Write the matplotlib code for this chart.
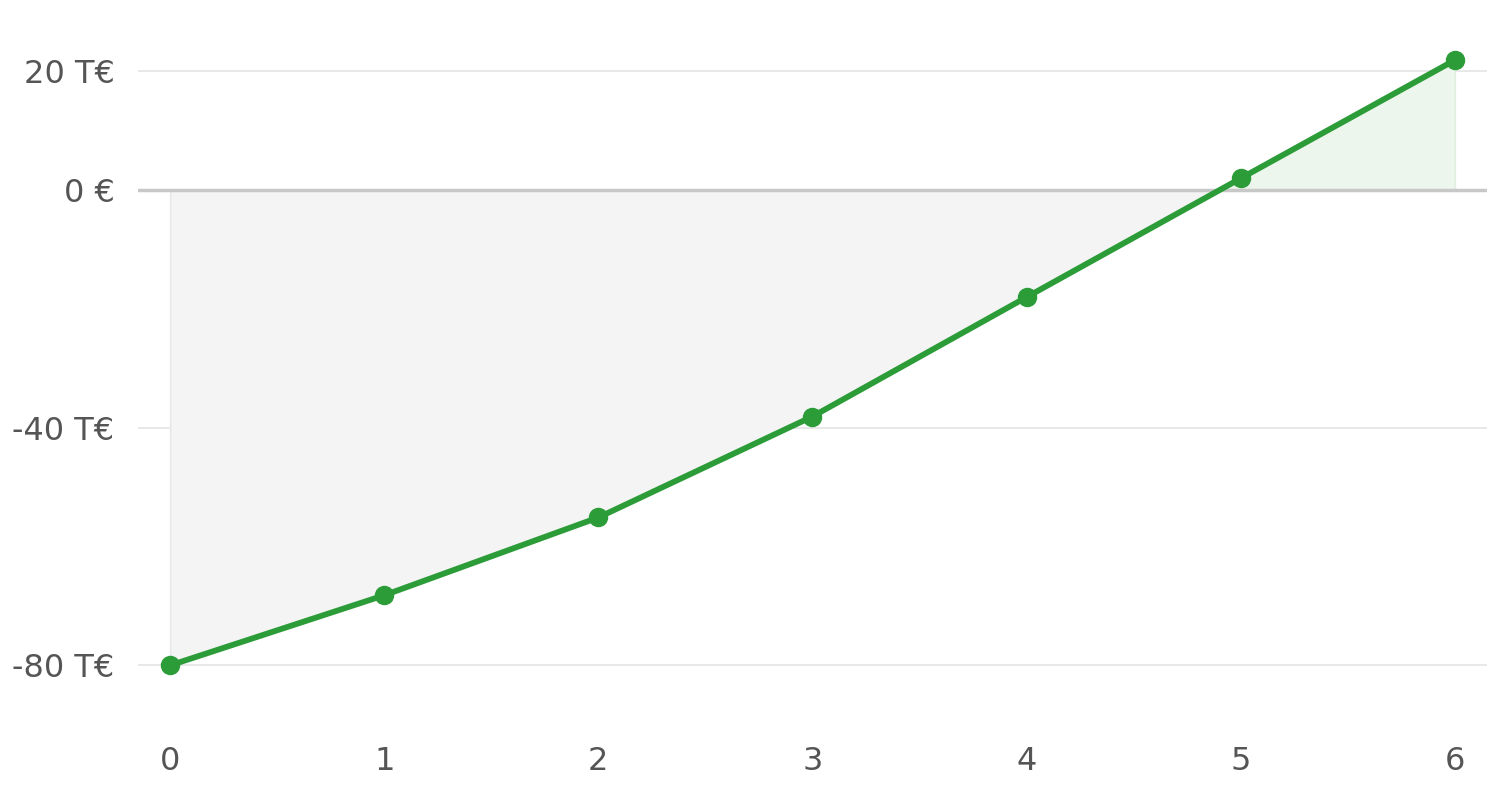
import matplotlib
matplotlib.use("Agg")
import matplotlib.pyplot as plt
import numpy as np
from matplotlib.ticker import FuncFormatter

years = [0, 1, 2, 3, 4, 5, 6]
cumulative = [-80000, -68200, -55100, -38100, -18000, 2000, 21900]
y_ticks = [-80000, -40000, 0, 20000]

fig = plt.figure(figsize=(15, 7.91), dpi=100)
ax = fig.add_axes([0.092, 0.083, 0.8993, 0.88])

x = np.array(years, dtype=float)
y = np.array(cumulative, dtype=float)

green = "#2c9c39"
ax.fill_between(x, y, 0, where=y <= 0, interpolate=True,
                facecolor="#f4f4f4", edgecolor="#e8e8e8", linewidth=1.2, zorder=1)
ax.fill_between(x, y, 0, where=y >= 0, interpolate=True,
                facecolor="#ecf6ec", edgecolor="#e0efe0", linewidth=1.2, zorder=1)

ax.axhline(0, color="#c8c8c8", linewidth=2.5, zorder=2)
for t in y_ticks:
    if t != 0:
        ax.axhline(t, color="#e6e6e6", linewidth=1.3, zorder=0.5)

ax.plot(x, y, color=green, linewidth=4.2, marker="o", markersize=13, zorder=3)

ax.set_xlim(-0.15, 6.15)
ax.set_ylim(-90100, 27100)
ax.set_xticks(years)
ax.set_yticks(y_ticks)

def fmt(v, pos):
    if v == 0:
        return "0 €"
    return f"{v/1000:.0f} T€"

ax.yaxis.set_major_formatter(FuncFormatter(fmt))
ax.tick_params(axis="both", length=0, labelsize=23, colors="#555555")
ax.tick_params(axis="y", pad=17)
ax.tick_params(axis="x", pad=15)
for s in ax.spines.values():
    s.set_visible(False)

fig.savefig("out.png", dpi=100, facecolor="white")
